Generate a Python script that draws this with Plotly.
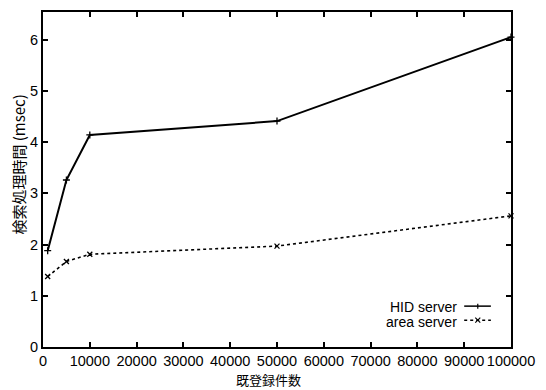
import plotly.graph_objects as go

records = [1000, 5000, 10000, 50000, 100000]
hid_server = [1.88, 3.26, 4.14, 4.41, 6.05]
area_server = [1.375, 1.67, 1.81, 1.97, 2.56]
x_ticks = [0, 10000, 20000, 30000, 40000, 50000, 60000, 70000, 80000, 90000, 100000]
y_ticks = [0, 1, 2, 3, 4, 5, 6]

FONT = "Liberation Sans, Arial, Helvetica, sans-serif"
JP = "Noto Sans CJK JP, sans-serif"

fig = go.Figure()
fig.add_trace(go.Scatter(
    x=records, y=hid_server, mode="lines+markers", name="HID server",
    line=dict(color="black", width=2),
    marker=dict(symbol="cross-thin", size=5, line=dict(color="black", width=1.3)),
    showlegend=False, cliponaxis=False))
fig.add_trace(go.Scatter(
    x=records, y=area_server, mode="lines+markers", name="area server",
    line=dict(color="black", width=1.6, dash="3px,3px"),
    marker=dict(symbol="x-thin", size=5, line=dict(color="black", width=1.3)),
    showlegend=False, cliponaxis=False))

axis_common = dict(
    showline=True, linecolor="black", linewidth=2, mirror="allticks",
    ticks="inside", ticklen=5, tickwidth=1.5, tickcolor="black",
    showgrid=False, zeroline=False, automargin=False, tickangle=0,
    tickfont=dict(family=FONT, size=14.5, color="black"),
)
fig.update_xaxes(range=[0, 100000], tickvals=x_ticks,
                 ticktext=[str(v) for v in x_ticks], **axis_common)
fig.update_yaxes(range=[0, 6.54], tickvals=y_ticks,
                 ticktext=[str(v) for v in y_ticks], **axis_common)

# Axis titles as annotations for precise placement
fig.add_annotation(x=-0.053, y=0.545, xref="paper", yref="paper",
                   text="検索処理時間 (msec)", textangle=-90, showarrow=False,
                   xanchor="center", yanchor="middle",
                   font=dict(family=JP, size=15, color="black"))
fig.add_annotation(x=0.481, y=-0.096, xref="paper", yref="paper",
                   text="既登録件数", showarrow=False,
                   xanchor="center", yanchor="middle",
                   font=dict(family=JP, size=13, color="black"))

# Manual gnuplot-style legend (text right-aligned, sample on the right)
legend_items = [("HID server", "solid", "cross"), ("area server", "3px,3px", "x")]
ys = [0.118, 0.076]
pw, ph = 468, 335
for (label, dash, sym), yy in zip(legend_items, ys):
    fig.add_annotation(x=0.888, y=yy, xref="paper", yref="paper", text=label,
                       showarrow=False, xanchor="right", yanchor="middle",
                       font=dict(family=FONT, size=14, color="black"))
    ly = yy + 0.004
    fig.add_shape(type="line", xref="paper", yref="paper",
                  x0=0.9, x1=0.957, y0=ly, y1=ly,
                  line=dict(color="black", width=1.5, dash=dash))
    cx = 0.929
    dx, dy = 2.5 / pw, 2.5 / ph
    if sym == "cross":
        fig.add_shape(type="line", xref="paper", yref="paper",
                      x0=cx, x1=cx, y0=ly - dy, y1=ly + dy,
                      line=dict(color="black", width=1.2))
    else:
        fig.add_shape(type="line", xref="paper", yref="paper",
                      x0=cx - dx, x1=cx + dx, y0=ly - dy, y1=ly + dy,
                      line=dict(color="black", width=1.2))
        fig.add_shape(type="line", xref="paper", yref="paper",
                      x0=cx - dx, x1=cx + dx, y0=ly + dy, y1=ly - dy,
                      line=dict(color="black", width=1.2))

# The page body has an 8px margin, so the figure is sized to fit the window
fig.update_layout(
    width=538, height=382,
    margin=dict(l=35, r=35, t=4, b=43),
    paper_bgcolor="white", plot_bgcolor="white",
    showlegend=False,
)
fig.write_html("out.html")
